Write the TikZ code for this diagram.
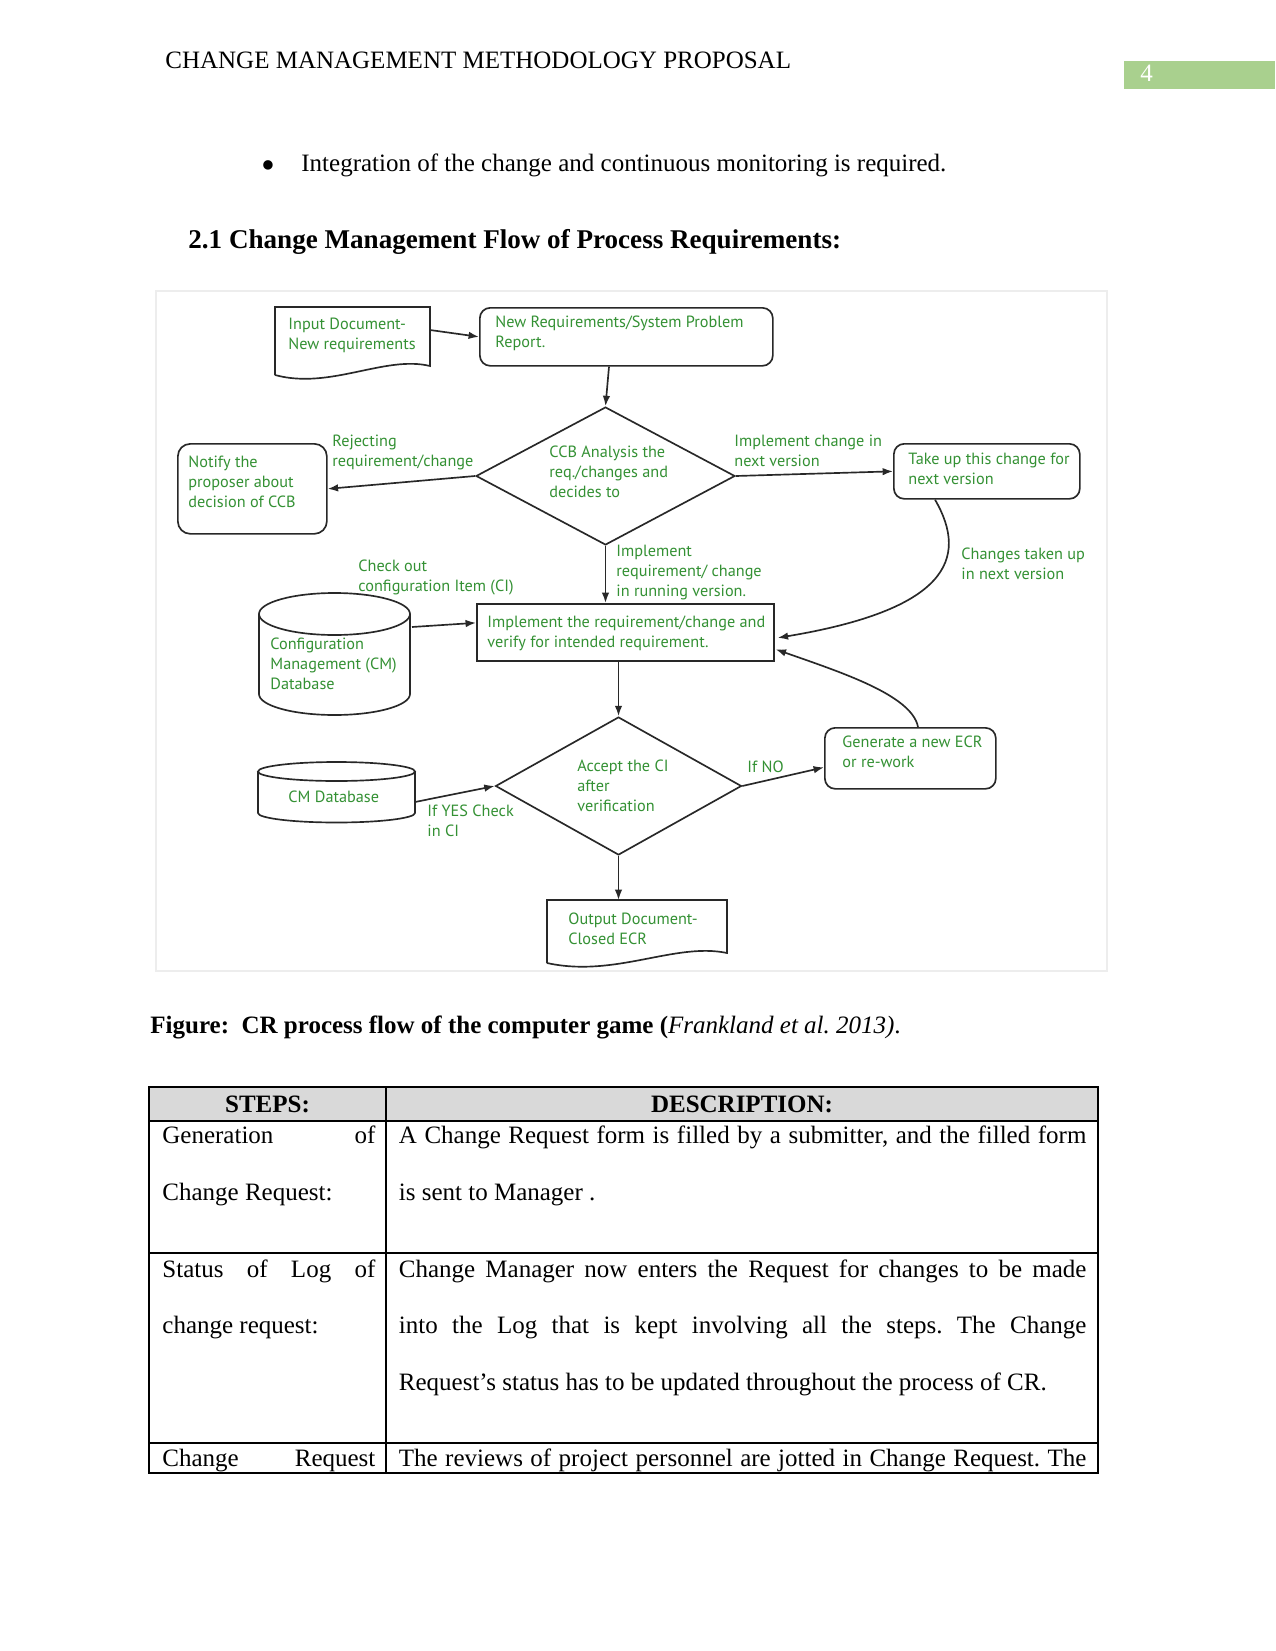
\documentclass[tikz,border=0pt]{standalone}
\usepackage{fontspec}
\setmainfont{Liberation Serif}
\newfontfamily\diagfont{PT Sans}
\usetikzlibrary{shapes.geometric,arrows.meta,calc}
\definecolor{dgreen}{RGB}{52,145,52}
\definecolor{lc}{RGB}{40,40,40}
\definecolor{hdrgreen}{RGB}{169,208,142}
\definecolor{thead}{RGB}{217,217,217}
\frenchspacing
\begin{document}
\begin{tikzpicture}[x=0.48pt,y=-0.48pt,
  lbl/.style={font=\diagfont\fontsize{7.8}{9.4}\selectfont, text=dgreen, inner sep=0pt, anchor=base west, align=left},
  body/.style={font=\fontsize{12}{14}\selectfont, inner sep=0pt, anchor=base west},
  bodyb/.style={font=\fontsize{12}{14}\selectfont\bfseries, inner sep=0pt, anchor=base west},
  shp/.style={draw=lc, line width=0.8pt},
  rbox/.style={shp, rounded corners=5pt, anchor=north west, inner sep=0pt},
  sbox/.style={shp, anchor=north west, inner sep=0pt},
  ghost/.style={anchor=north west, inner sep=0pt, outer sep=0pt},
  arr/.style={draw=lc, line width=0.8pt, -{Latex[length=5pt,width=3.6pt]}},
  dia/.style={shp, diamond, inner sep=0pt},
  tline/.style={draw=black, line width=0.5pt},
]
\useasboundingbox (0,0) rectangle (1275,1651);
\fill[white] (0,0) rectangle (1275,1651);

% ---------- page header ----------
\node[body] (hdr) at (165,69) {CHANGE MANAGEMENT METHODOLOGY PROPOSAL};
\node[ghost, fill=hdrgreen, minimum width=72.48pt, minimum height=13.44pt] (pgbox) at (1124,61) {};
\node[body, text=white] (pgnum) at (1140,82) {4};

\node[body, font=\fontsize{19}{19}\selectfont] (bul) at (261,179) {•};
\node[body] (bultext) at (301,172) {Integration of the change and continuous monitoring is required.};
\node[bodyb, font=\fontsize{13}{15}\selectfont\bfseries] (head) at (188,248) {2.1 Change Management Flow of Process Requirements:};

% ---------- figure frame ----------
\draw[black!7, line width=1pt] (156,291) rectangle (1107,971);

% ---------- diagram shapes ----------
\node[ghost, minimum width=74.4pt, minimum height=33.12pt] (indoc) at (275,307) {};
\draw[shp] (275,375) -- (275,307) -- (430,307) -- (430,366) .. controls (385,355) and (330,390) .. (275,375);

\node[rbox, minimum width=140.64pt, minimum height=27.84pt] (newreq) at (479,307) {};
\node[dia, minimum width=124.3pt, minimum height=66.2pt] (ccb) at (605.5,476) {};
\node[rbox, rounded corners=6pt, minimum width=71.52pt, minimum height=43.2pt] (notify) at (177,443) {};
\node[rbox, minimum width=89.28pt, minimum height=26.4pt] (takeup) at (893,443) {};
\node[sbox, minimum width=142.56pt, minimum height=27.36pt] (impl) at (476,603) {};
\node[dia, minimum width=118.08pt, minimum height=66.24pt] (accept) at (618.5,786) {};
\node[rbox, minimum width=82.08pt, minimum height=29.28pt] (gen) at (824,727) {};

\node[ghost, minimum width=86.4pt, minimum height=30.24pt] (outdoc) at (547,900) {};
\draw[shp] (547,963) -- (547,900) -- (727,900) -- (727,953) .. controls (675,942) and (615,978) .. (547,963);

% configuration DB cylinder
\node[ghost, minimum width=72.48pt, minimum height=58.56pt] (cfgdb) at (259,593) {};
\draw[shp] (334.5,614) ellipse [x radius=36.24pt, y radius=10.08pt];
\draw[shp] (259,614) -- (259,694) arc[start angle=180, end angle=360, x radius=36.24pt, y radius=10.08pt] -- (410,614);

% CM database cylinder
\node[ghost, minimum width=75.36pt, minimum height=29.28pt] (cmdb) at (258,762) {};
\draw[shp] (336.5,771.5) ellipse [x radius=37.68pt, y radius=4.56pt];
\draw[shp] (258,771.5) -- (258,813) arc[start angle=180, end angle=360, x radius=37.68pt, y radius=4.56pt] -- (415,771.5);

% ---------- diagram texts (anchored at the baseline of the last line) ----------
\node[lbl] (t-indoc) at (288,349.5) {Input Document-\\New requirements};
\node[lbl] (t-newreq) at (495,347.5) {New Requirements/System Problem\\Report.};
\node[lbl] (t-ccb) at (549,497) {CCB Analysis the\\req./changes and\\decides to};
\node[lbl] (t-notify) at (188,507) {Notify the\\proposer about\\decision of CCB};
\node[lbl] (l-reject) at (332,466.5) {Rejecting\\requirement/change};
\node[lbl] (l-next) at (734,466.5) {Implement change in\\next version};
\node[lbl] (t-takeup) at (908,484.5) {Take up this change for\\next version};
\node[lbl] (l-taken) at (961,579.5) {Changes taken up\\in next version};
\node[lbl] (l-run) at (616,596) {Implement\\requirement/ change\\in running version.};
\node[lbl] (l-check) at (358,591.5) {Check out\\configuration Item (CI)};
\node[lbl] (t-cfg) at (270,689) {Configuration\\Management (CM)\\Database};
\node[lbl] (t-impl) at (487,647.5) {Implement the requirement/change and\\verify for intended requirement.};
\node[lbl] (t-accept) at (577,811) {Accept the CI\\after\\verification};
\node[lbl] (l-no) at (747,772) {If NO};
\node[lbl] (t-gen) at (842,767.5) {Generate a new ECR\\or re-work};
\node[lbl] (t-cmdb) at (288,802) {CM Database};
\node[lbl] (l-yes) at (427,836.5) {If YES Check\\in CI};
\node[lbl] (t-out) at (568,944.5) {Output Document-\\Closed ECR};

% ---------- connectors ----------
\draw[arr] ($(indoc.north east)+(0,23)$) -- (newreq.west);
\draw[arr] ($(newreq.south west)+(130,0)$) -- (ccb.north);
\draw[arr] (ccb.west) -- (notify.east);
\draw[arr] (ccb.east) -- (takeup.west);
\draw[arr] ($(takeup.south west)+(42,0)$) .. controls (970,560) and (945,610) .. ($(impl.east)+(3,5.5)$);
\draw[arr] (ccb.south) -- (ccb.south |- impl.north);
\draw[arr] ($(cfgdb.north east)+(2,34)$) -- ($(impl.west)+(0,-9.5)$);
\draw[arr] (accept.north |- impl.south) -- (accept.north);
\draw[arr] (accept.east) -- ($(gen.west)+(0,9)$);
\draw[arr] ($(gen.north west)+(94,0)$) .. controls (912,695) and (840,672) .. ($(impl.east)+(1,17)$);
\draw[arr] ($(cmdb.east)+(0,9.5)$) -- (accept.west);
\draw[arr] (accept.south) -- (accept.south |- outdoc.north);

% ---------- caption ----------
\node[body] (cap) at (150,1033) {\textbf{Figure:\ \ CR process flow of the computer game (}\textit{Frankland et al. 2013)}.};

% ---------- table ----------
\fill[thead] (149,1087) rectangle (1098,1121);
\draw[tline] (149,1087) rectangle (1098,1473);
\draw[tline] (149,1121) -- (1098,1121);
\draw[tline] (149,1253) -- (1098,1253);
\draw[tline] (149,1443) -- (1098,1443);
\draw[tline] (386,1087) -- (386,1473);

\node[bodyb, anchor=base] (th1) at (267.5,1112) {STEPS:};
\node[bodyb, anchor=base] (th2) at (742,1112) {DESCRIPTION:};

\node[body] (r1a) at (162,1143) {\makebox[102.24pt][s]{Generation of}};
\node[body] (r1b) at (162,1200) {Change Request:};
\node[body] (r1c) at (398.5,1143) {\makebox[330pt][s]{A Change Request form is filled by a submitter, and the filled form}};
\node[body] (r1d) at (398.5,1200) {is sent to Manager .};

\node[body] (r2a) at (162,1277) {\makebox[102.24pt][s]{Status of Log of}};
\node[body] (r2b) at (162,1333) {change request:};
\node[body] (r2c) at (398.5,1277) {\makebox[330pt][s]{Change Manager now enters the Request for changes to be made}};
\node[body] (r2d) at (398.5,1333) {\makebox[330pt][s]{into the Log that is kept involving all the steps. The Change}};
\node[body] (r2e) at (398.5,1390) {Request’s status has to be updated throughout the process of CR.};

\node[body] (r3a) at (162,1466) {\makebox[102.24pt][s]{Change Request}};
\node[body] (r3b) at (398.5,1466) {\makebox[330pt][s]{The reviews of project personnel are jotted in Change Request. The}};
\end{tikzpicture}
\end{document}
